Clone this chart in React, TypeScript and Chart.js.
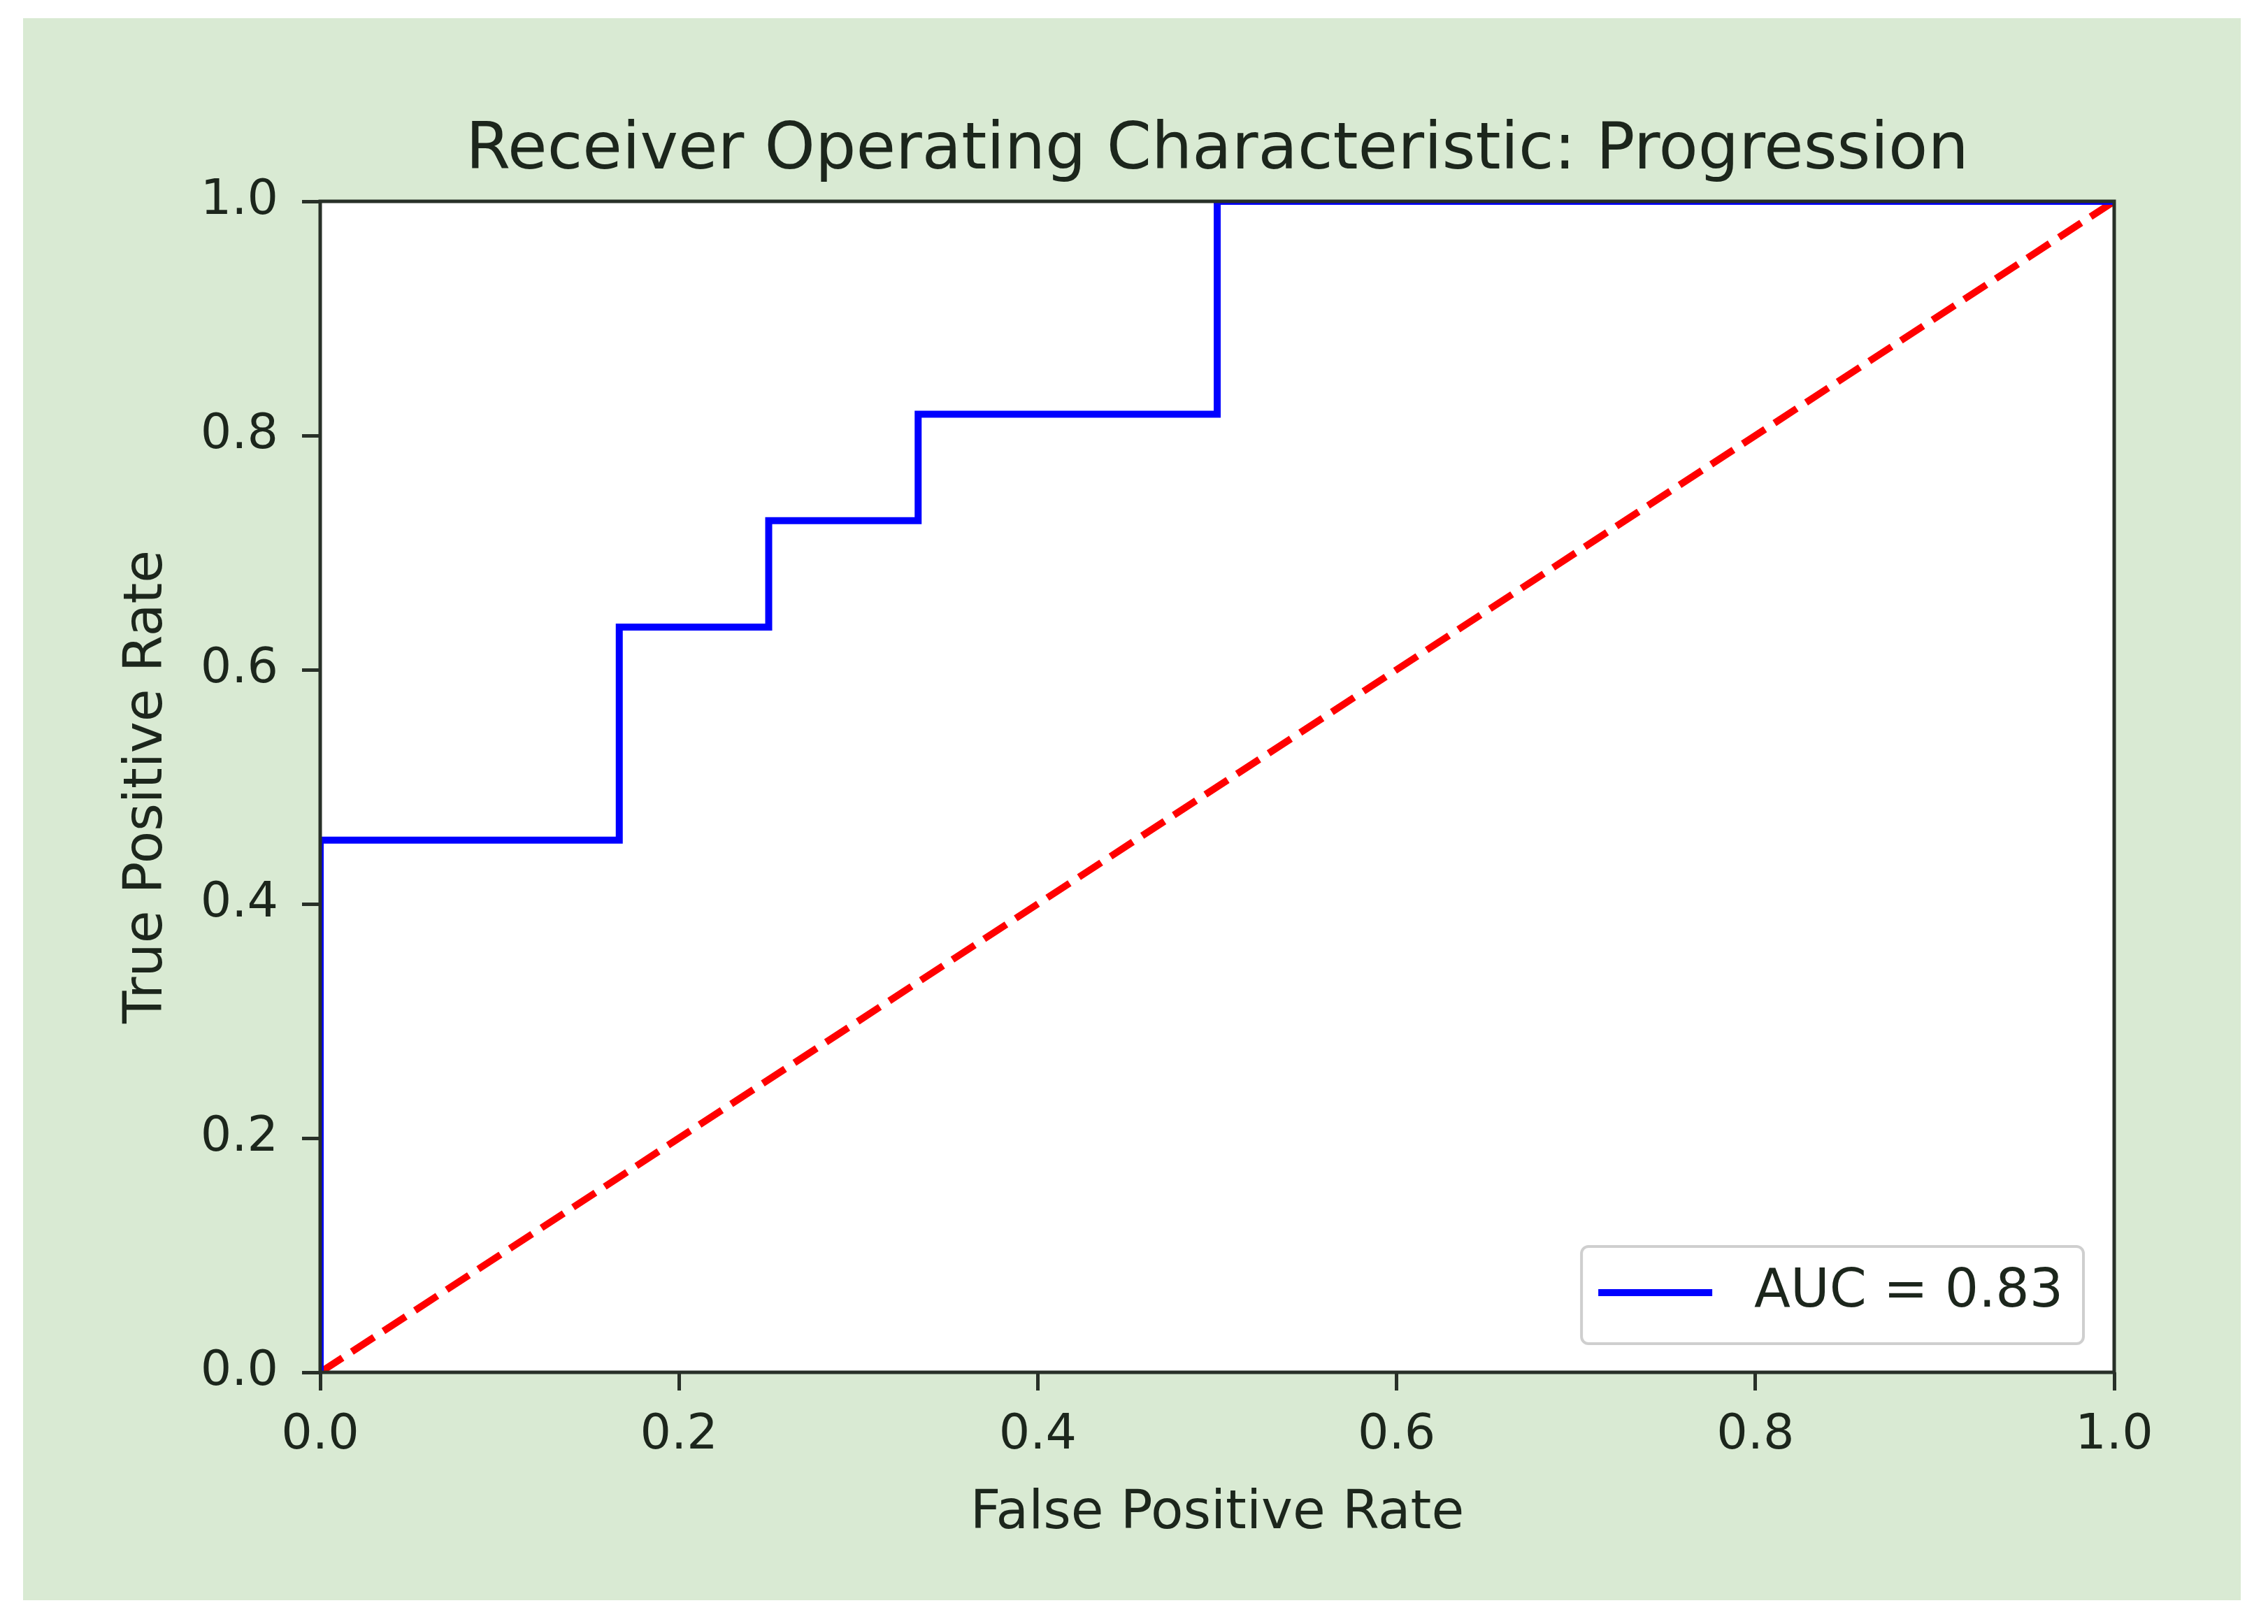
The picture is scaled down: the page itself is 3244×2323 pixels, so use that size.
import React, { useEffect, useRef } from "react";
import { Chart, registerables } from "chart.js";

Chart.register(...registerables);

// ---- data ----
const rocFpr = [0, 0, 0.1667, 0.1667, 0.25, 0.25, 0.3333, 0.3333, 0.5, 0.5, 1.0];
const rocTpr = [0, 0.4545, 0.4545, 0.6364, 0.6364, 0.7273, 0.7273, 0.8182, 0.8182, 1.0, 1.0];
const chanceFpr = [0, 1];
const chanceTpr = [0, 1];
const xTickValues = [0, 0.2, 0.4, 0.6, 0.8, 1.0];
const yTickValues = [0, 0.2, 0.4, 0.6, 0.8, 1.0];
const aucLabel = "AUC = 0.83";
const chartTitle = "Receiver Operating Characteristic: Progression";
const xAxisTitle = "False Positive Rate";
const yAxisTitle = "True Positive Rate";

// ---- style ----
const W = 3244;
const H = 2323;
const FONT = "'DejaVu Sans', 'Liberation Sans', sans-serif";
const TEXT = "#1c261c";
const SPINE = "#283028";
const GREEN = "#d9ead3";

const framePlugin = {
  id: "frame",
  beforeDraw(chart: any) {
    const { ctx, chartArea } = chart;
    const { left, top, right, bottom } = chartArea;
    ctx.save();
    ctx.fillStyle = "#ffffff";
    ctx.fillRect(left, top, right - left, bottom - top);
    ctx.restore();
  },
  afterDatasetsDraw(chart: any) {
    const { ctx, chartArea } = chart;
    const { left, top, right, bottom } = chartArea;
    ctx.save();
    // spines
    ctx.strokeStyle = SPINE;
    ctx.lineWidth = 5;
    ctx.strokeRect(left, top, right - left, bottom - top);

    // legend (lower right, inside axes)
    const ds = chart.data.datasets[0];
    const label = ds.label as string;
    ctx.font = `76px ${FONT}`;
    const tw = ctx.measureText(label).width;
    const padL = 24, handle = 163, gap = 60, padR = 29, h = 139;
    const w = padL + handle + gap + tw + padR;
    const x1 = right - 44 - w;
    const y1 = bottom - 41 - h;
    ctx.beginPath();
    (ctx as any).roundRect(x1, y1, w, h, 10);
    ctx.fillStyle = "rgba(255,255,255,0.8)";
    ctx.fill();
    ctx.strokeStyle = "#cfcfcf";
    ctx.lineWidth = 4;
    ctx.stroke();
    const ly = y1 + 66;
    ctx.beginPath();
    ctx.moveTo(x1 + padL, ly);
    ctx.lineTo(x1 + padL + handle, ly);
    ctx.strokeStyle = ds.borderColor;
    ctx.lineWidth = 10;
    ctx.stroke();
    ctx.fillStyle = TEXT;
    ctx.textAlign = "left";
    ctx.textBaseline = "middle";
    ctx.fillText(label, x1 + padL + handle + gap, ly);
    ctx.restore();
  },
};

export default function App() {
  const canvasRef = useRef<HTMLCanvasElement | null>(null);

  useEffect(() => {
    const canvas = canvasRef.current;
    if (!canvas) return;
    const rocPoints = rocFpr.map((x, i) => ({ x, y: rocTpr[i] }));
    const chancePoints = chanceFpr.map((x, i) => ({ x, y: chanceTpr[i] }));

    const chart = new Chart(canvas, {
      type: "line",
      data: {
        datasets: [
          {
            label: aucLabel,
            data: rocPoints,
            borderColor: "#0000ff",
            borderWidth: 10,
            pointRadius: 0,
            tension: 0,
            fill: false,
            clip: 0,
            borderJoinStyle: "miter",
          } as any,
          {
            label: "chance",
            data: chancePoints,
            borderColor: "#ff0000",
            borderWidth: 10,
            borderDash: [38, 16],
            pointRadius: 0,
            tension: 0,
            fill: false,
          } as any,
        ],
      },
      options: {
        animation: false,
        responsive: false,
        maintainAspectRatio: false,
        layout: { padding: { left: 0, right: 220, top: 0, bottom: 0 } },
        plugins: {
          legend: { display: false },
          tooltip: { enabled: false },
          title: {
            display: true,
            text: chartTitle,
            color: TEXT,
            fullSize: false,
            font: { family: FONT, size: 92, weight: "normal" },
            padding: { top: 162, bottom: 15.6 },
          },
        },
        scales: {
          x: {
            type: "linear",
            min: 0,
            max: 1,
            afterBuildTicks: (s: any) => {
              s.ticks = xTickValues.map((v) => ({ value: v }));
            },
            afterFit: (s: any) => {
              s.height = 360;
            },
            ticks: {
              color: TEXT,
              font: { family: FONT, size: 70 },
              padding: 23,
              maxRotation: 0,
              autoSkip: false,
              callback: (v: any) => Number(v).toFixed(1),
            },
            grid: {
              drawOnChartArea: false,
              drawTicks: true,
              tickLength: 26,
              color: SPINE,
              lineWidth: 5,
            },
            border: { display: false },
            title: {
              display: true,
              text: xAxisTitle,
              color: TEXT,
              font: { family: FONT, size: 76 },
              padding: { top: 0, bottom: 111 },
            },
          },
          y: {
            type: "linear",
            min: 0,
            max: 1,
            afterBuildTicks: (s: any) => {
              s.ticks = yTickValues.map((v) => ({ value: v }));
            },
            afterFit: (s: any) => {
              s.width = 458;
            },
            ticks: {
              color: TEXT,
              font: { family: FONT, size: 70 },
              padding: 34,
              autoSkip: false,
              callback: (v: any) => Number(v).toFixed(1),
            },
            grid: {
              drawOnChartArea: false,
              drawTicks: true,
              tickLength: 26,
              color: SPINE,
              lineWidth: 5,
            },
            border: { display: false },
            title: {
              display: true,
              text: yAxisTitle,
              color: TEXT,
              font: { family: FONT, size: 76 },
              padding: { top: 166, bottom: 0 },
            },
          },
        },
      } as any,
      plugins: [framePlugin],
    });
    return () => chart.destroy();
  }, []);

  return (
    <div
      style={{
        position: "absolute",
        left: 0,
        top: 0,
        width: W,
        height: H,
        background: "#ffffff",
        overflow: "hidden",
      }}
    >
      <div
        style={{
          position: "absolute",
          left: 33,
          top: 26,
          width: 3172,
          height: 2263,
          background: GREEN,
        }}
      />
      <canvas
        ref={canvasRef}
        width={W}
        height={H}
        style={{ position: "absolute", left: 0, top: 0, width: W, height: H }}
      />
    </div>
  );
}
